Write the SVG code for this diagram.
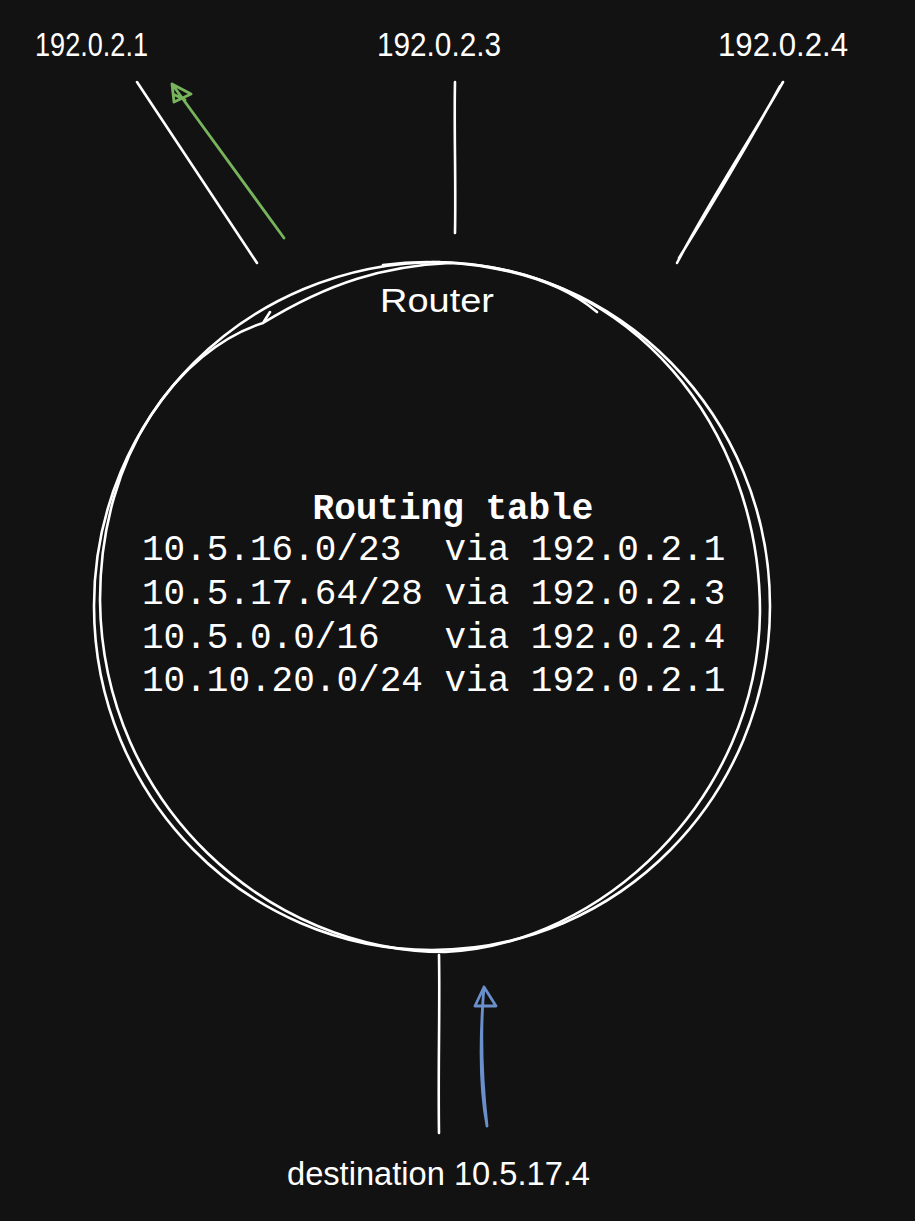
<svg xmlns="http://www.w3.org/2000/svg" width="915" height="1221" viewBox="0 0 915 1221">
<style>
.hand{font-family:"Liberation Sans","DejaVu Sans",sans-serif;font-size:33px;fill:#ffffff}
.mono{font-family:"Liberation Mono","DejaVu Sans Mono",monospace;font-size:36px;fill:#ffffff}
.w{fill:none;stroke:#ffffff;stroke-width:2.6;stroke-linecap:round;stroke-linejoin:round}
.g{fill:none;stroke:#78b45c;stroke-width:2.8;stroke-linecap:round;stroke-linejoin:round}
.b{fill:none;stroke:#6a8fcb;stroke-width:2.8;stroke-linecap:round;stroke-linejoin:round}
</style>
<rect width="915" height="1221" fill="#121212"/>
<g id="ip1"><text class="hand" x="35" y="56" textLength="113" lengthAdjust="spacingAndGlyphs">192.0.2.1</text></g>
<g id="ip3"><text class="hand" x="377" y="56" textLength="124" lengthAdjust="spacingAndGlyphs">192.0.2.3</text></g>
<g id="ip4"><text class="hand" x="718" y="56" textLength="130" lengthAdjust="spacingAndGlyphs">192.0.2.4</text></g>
<g id="router">
<path class="w" d="M432,262 C618.7,262 770,416 770,606 C770,796 618.7,950 432,950 C245.3,950 94,796 94,606 C94,416 245.3,262 440,262"/>
<path class="w" d="M383,265 C450,256 545,268 597,312 M270,312 L263,323 C330,282 385,266 450,263 C630,270 760,426 760,612 C758,800 600,945 445,952 C270,952 102,806 100,600 C100,452 180,350 263,323"/>
<text class="hand" x="380" y="312" textLength="114" lengthAdjust="spacingAndGlyphs">Router</text>
<text class="mono" x="453" y="519" text-anchor="middle" font-weight="bold">Routing table</text>
<text class="mono" x="142" y="560" xml:space="preserve">10.5.16.0/23  via 192.0.2.1</text>
<text class="mono" x="142" y="604" xml:space="preserve">10.5.17.64/28 via 192.0.2.3</text>
<text class="mono" x="142" y="648" xml:space="preserve">10.5.0.0/16   via 192.0.2.4</text>
<text class="mono" x="142" y="691" xml:space="preserve">10.10.20.0/24 via 192.0.2.1</text>
</g>
<g id="destination"><text class="hand" x="287" y="1185" textLength="303" lengthAdjust="spacingAndGlyphs">destination 10.5.17.4</text></g>
<g id="connectors">
<path class="w" d="M137,82 L257,263"/>
<path class="w" d="M455,82 C454,130 456,180 455,233"/>
<path class="w" d="M783,82 C750,140 710,200 677,263 M780,86 C745,150 715,200 679,258"/>
<path class="w" d="M439,955 C440,1010 438,1070 439,1133"/>
<path class="g" d="M284,238 L172,84 M172,84 L174,102 L191,94 L172,84 M175,95 L185,100"/>
<path class="b" d="M487,1126 C482,1080 480,1030 484,987 M484,987 C478,1060 482,1100 487,1126 M484,987 L475,1006 L496,1006 Z"/>
</g>
</svg>
